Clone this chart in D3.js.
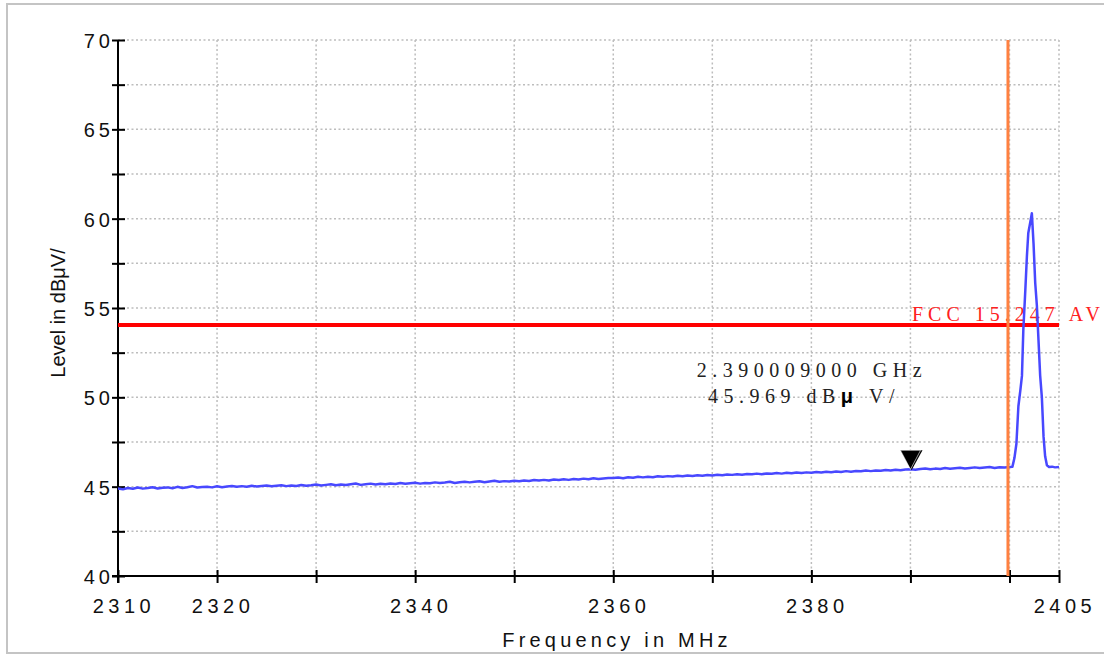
<!DOCTYPE html>
<html><head><meta charset="utf-8">
<script src="https://cdn.jsdelivr.net/npm/d3@7/dist/d3.min.js"></script>
<style>
body{margin:0;background:#fff;}
svg{display:block;}
</style></head>
<body><svg id="c" width="1104" height="656"></svg>
<script>
// ---- data ----
// sweep below the band edge: 0.5 MHz steps from 2310 to 2399.5
const sweepLevels = [
44.90,44.86,44.93,44.88,44.95,44.89,44.92,44.97,44.90,44.94,
44.96,44.91,44.99,44.93,44.97,45.03,44.95,44.98,45.00,44.96,
45.02,44.97,45.01,45.04,44.99,45.03,45.00,45.05,45.01,45.04,
45.06,45.02,45.05,45.08,45.03,45.07,45.04,45.09,45.05,45.08,
45.12,45.07,45.10,45.13,45.08,45.12,45.09,45.14,45.18,45.10,
45.14,45.17,45.12,45.16,45.13,45.18,45.15,45.20,45.16,45.19,
45.22,45.17,45.21,45.19,45.24,45.20,45.23,45.27,45.21,45.25,
45.28,45.24,45.27,45.30,45.25,45.29,45.33,45.27,45.31,45.29,
45.33,45.30,45.35,45.32,45.37,45.34,45.38,45.35,45.40,45.37,
45.41,45.38,45.43,45.40,45.45,45.42,45.47,45.43,45.46,45.49,
45.48,45.51,45.47,45.53,45.50,45.55,45.52,45.56,45.53,45.58,
45.55,45.59,45.57,45.61,45.58,45.62,45.60,45.64,45.61,45.65,
45.63,45.67,45.64,45.68,45.66,45.70,45.67,45.71,45.69,45.73,
45.70,45.74,45.72,45.76,45.73,45.78,45.75,45.79,45.76,45.80,
45.78,45.82,45.79,45.84,45.81,45.85,45.82,45.87,45.84,45.88,
45.86,45.90,45.87,45.91,45.89,45.93,45.90,45.95,45.92,45.96,
45.97,45.95,45.99,46.02,45.97,46.01,45.99,46.04,46.00,46.03,
46.06,46.02,46.05,46.08,46.04,46.07,46.10,46.05,46.09,46.07];
// band edge and carrier region
const peakFreqs = [2400,2400.3,2400.5,2400.7,2400.9,2401.1,2401.26,2401.4,2401.6,2401.76,2401.9,2402.1,2402.26,
2402.43,2402.6,2402.77,2402.93,2403.1,2403.27,2403.44,2403.6,2403.78,2404.0,2404.3,2404.6,2405];
const peakLevels = [46.10,46.12,46.6,47.4,49.5,50.4,51.2,53.8,56.0,57.9,59.2,59.8,60.3,
58.6,56.4,55.1,53.2,51.2,50.0,47.8,46.7,46.2,46.1,46.12,46.08,46.1];

const xTicks = [2310,2320,2330,2340,2350,2360,2370,2380,2390,2400,2405];
const xTickLabels = [2310,2320,2340,2360,2380,2405];
const yTicks = [40,42.5,45,47.5,50,52.5,55,57.5,60,62.5,65,67.5,70];
const yTickLabels = [40,45,50,55,60,65,70];
const xGrid = [2320,2330,2340,2350,2360,2370,2380,2390,2400,2405];
const limitLevel = 54.05;
const limitLabel = "FCC 15.247 AV";
const bandEdge = 2400;
const markerFreq = 2390.009;
const markerLevel = 45.969;
const markerLine1 = "2.390009000 GHz";
const markerLine2 = ["45.969 dB", "μ", " V/"];
const xTitle = "Frequency in MHz";
const yTitle = "Level in dBμV/";

// ---- drawing ----
const svg = d3.select("#c");
const L = 118, R = 1059, T = 40, B = 576;
const x = d3.scaleLinear().domain([2310,2405]).range([L,R]);
const y = d3.scaleLinear().domain([40,70]).range([B,T]);

const sweepFreqs = sweepLevels.map((d,i)=>2310 + i*0.5);
const trace = sweepLevels.map((v,i)=>[sweepFreqs[i],v])
  .concat(peakLevels.map((v,i)=>[peakFreqs[i],v]));

// outer frame
svg.append("rect").attr("x",7).attr("y",4).attr("width",1110).attr("height",649)
  .attr("fill","none").attr("stroke","#c4c4c4").attr("stroke-width",2);

const grid = svg.append("g").attr("stroke","#bdbdbd").attr("stroke-width",1.5).attr("stroke-dasharray","2,2.5");
grid.selectAll("line.h").data(yTicks.filter(d=>d>40)).join("line")
  .attr("x1",L).attr("x2",R).attr("y1",d=>y(d)).attr("y2",d=>y(d));
grid.selectAll("line.v").data(xGrid).join("line").attr("class","v")
  .attr("y1",T).attr("y2",B).attr("x1",d=>x(d)).attr("x2",d=>x(d));

// y axis
const yAx = svg.append("g").attr("transform",`translate(${L},0)`)
  .call(d3.axisLeft(y).tickValues(yTicks).tickSize(6).tickFormat(""));
yAx.select(".domain").remove();
yAx.selectAll(".tick line").attr("x1",-6).attr("x2",7).attr("stroke","#000").attr("stroke-width",2);
svg.append("line").attr("x1",L).attr("x2",L).attr("y1",T).attr("y2",B+7).attr("stroke","#000").attr("stroke-width",2);

// x axis
const xAx = svg.append("g").attr("transform",`translate(0,${B})`)
  .call(d3.axisBottom(x).tickValues(xTicks).tickSize(6).tickFormat(""));
xAx.select(".domain").remove();
xAx.selectAll(".tick line").attr("y1",-6).attr("y2",7).attr("stroke","#000").attr("stroke-width",2);
svg.append("line").attr("x1",L-6).attr("x2",R).attr("y1",B).attr("y2",B).attr("stroke","#000").attr("stroke-width",2);

const sans = "'Liberation Sans', Arial, sans-serif";
const serif = "'Liberation Serif', 'Times New Roman', serif";

svg.append("g").selectAll("text").data(yTickLabels).join("text")
  .attr("x",110).attr("y",d=>y(d)+8).attr("text-anchor","end")
  .attr("font-family",sans).attr("font-size",20).attr("letter-spacing","4px")
  .attr("dx","4px").attr("fill","#111").text(d=>d);

svg.append("g").selectAll("text").data(xTickLabels).join("text")
  .attr("x",d=>x(d)+6).attr("y",B+37).attr("text-anchor","middle")
  .attr("font-family",sans).attr("font-size",20).attr("letter-spacing","4.5px")
  .attr("fill","#111").text(d=>d);

svg.append("text").attr("x",617).attr("y",647).attr("text-anchor","middle")
  .attr("font-family",sans).attr("font-size",20).attr("letter-spacing","4.2px")
  .attr("fill","#111").text(xTitle);

svg.append("text").attr("transform",`translate(65,313) rotate(-90)`).attr("text-anchor","middle")
  .attr("font-family",sans).attr("font-size",20).attr("fill","#111").text(yTitle);

// limit line
svg.append("line").attr("x1",L).attr("x2",R).attr("y1",y(limitLevel)).attr("y2",y(limitLevel))
  .attr("stroke","#ff0000").attr("stroke-width",4);
svg.append("text").attr("x",912).attr("y",y(limitLevel)-4)
  .attr("font-family",serif).attr("font-size",20).attr("letter-spacing","5px")
  .attr("fill","#ff2020").text(limitLabel);

// trace
const line = d3.line().x(d=>x(d[0])).y(d=>y(d[1]));
svg.append("path").datum(trace).attr("d",line).attr("fill","none")
  .attr("stroke","#4848ff").attr("stroke-width",2.5).attr("stroke-linejoin","round");

// band edge line
svg.append("line").attr("x1",x(bandEdge)-1.5).attr("x2",x(bandEdge)-1.5).attr("y1",T).attr("y2",B)
  .attr("stroke","#ff8040").attr("stroke-width",3);

// marker
const mx = x(markerFreq), my = y(markerLevel);
svg.append("path").attr("d",`M${mx-10},${my-19}L${mx+12},${my-19}L${mx+1},${my+1}Z`).attr("fill","#000");
svg.append("path").attr("d",`M${mx-10},${my-19}L${mx+10},${my-19}L${mx},${my}Z`)
  .attr("fill","#000").attr("stroke","#fff").attr("stroke-width",0.6);

const ann = svg.append("g").attr("font-family",serif).attr("font-size",20).attr("fill","#222");
ann.append("text").attr("x",812).attr("y",377).attr("text-anchor","middle").attr("letter-spacing","5.5px").text(markerLine1);
const t2 = ann.append("text").attr("x",804).attr("y",403).attr("text-anchor","middle").attr("letter-spacing","5.5px");
t2.append("tspan").text(markerLine2[0]);
t2.append("tspan").attr("font-family",sans).attr("font-weight","bold").attr("fill","#000").text(markerLine2[1]);
t2.append("tspan").text(markerLine2[2]);
</script>
</body></html>
